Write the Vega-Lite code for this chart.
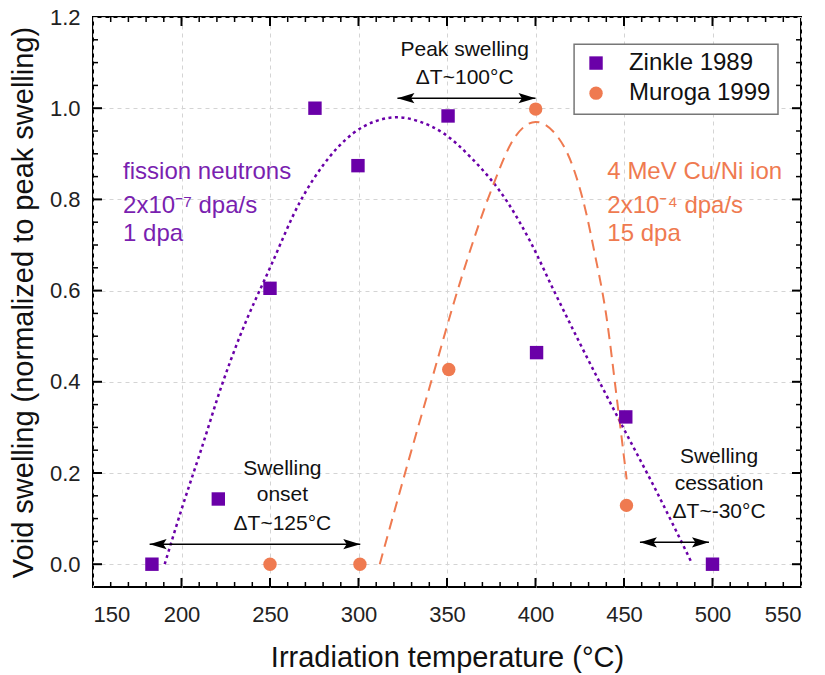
{
  "$schema": "https://vega.github.io/schema/vega-lite/v6.json",
  "width": 708,
  "height": 570,
  "autosize": {"type": "none"},
  "padding": {"left": 93, "top": 17, "right": 24, "bottom": 88},
  "background": "white",
  "config": {
    "font": "Liberation Sans",
    "view": {"stroke": "black", "strokeWidth": 2},
    "axis": {
      "labelFont": "Liberation Sans",
      "titleFont": "Liberation Sans",
      "labelFontSize": 22,
      "labelColor": "#222222",
      "titleFontSize": 29,
      "titleFontWeight": "normal",
      "titleColor": "#111111",
      "domain": false,
      "gridColor": "#d4d4d4",
      "gridDash": [4, 4],
      "gridWidth": 1
    }
  },
  "datasets": {
    "xmajor": [{"t": 200}, {"t": 250}, {"t": 300}, {"t": 350}, {"t": 400}, {"t": 450}, {"t": 500}],
    "xminor": [{"t": 160}, {"t": 170}, {"t": 180}, {"t": 190}, {"t": 210}, {"t": 220}, {"t": 230}, {"t": 240}, {"t": 260}, {"t": 270}, {"t": 280}, {"t": 290}, {"t": 310}, {"t": 320}, {"t": 330}, {"t": 340}, {"t": 360}, {"t": 370}, {"t": 380}, {"t": 390}, {"t": 410}, {"t": 420}, {"t": 430}, {"t": 440}, {"t": 460}, {"t": 470}, {"t": 480}, {"t": 490}, {"t": 510}, {"t": 520}, {"t": 530}, {"t": 540}],
    "ymajor": [{"v": 0}, {"v": 0.2}, {"v": 0.4}, {"v": 0.6}, {"v": 0.8}, {"v": 1.0}],
    "yminor": [{"v": 0.05}, {"v": 0.1}, {"v": 0.15}, {"v": 0.25}, {"v": 0.3}, {"v": 0.35}, {"v": 0.45}, {"v": 0.5}, {"v": 0.55}, {"v": 0.65}, {"v": 0.7}, {"v": 0.75}, {"v": 0.85}, {"v": 0.9}, {"v": 0.95}, {"v": 1.05}, {"v": 1.1}, {"v": 1.15}],
    "legend": [
      {"x": 434.2, "y": 1.099, "lx": 452.8, "s": "Zinkle 1989"},
      {"x": 434.2, "y": 1.033, "lx": 452.8, "s": "Muroga 1999"}
    ]
  },
  "layer": [
    {
      "data": {"name": "xmajor"},
      "mark": {"type": "tick", "orient": "vertical", "size": 18, "thickness": 2, "color": "black", "opacity": 1, "clip": true},
      "encoding": {
        "x": {"field": "t", "type": "quantitative", "scale": {"domain": [150, 550], "nice": false, "zero": false}, "axis": {"orient": "bottom", "values": [150,200,250,300,350,400,450,500,550], "title": "Irradiation temperature (°C)", "ticks": false, "labelPadding": 17, "titlePadding": 18, "grid": true}},
        "y": {"datum": -0.05, "type": "quantitative", "scale": {"domain": [-0.05, 1.2], "nice": false, "zero": false}, "axis": {"orient": "left", "values": [0,0.2,0.4,0.6,0.8,1.0,1.2], "format": ".1f", "title": "Void swelling (normalized to peak swelling)", "ticks": false, "labelPadding": 13, "titlePadding": 11, "grid": true}}
      }
    },
    {
      "data": {"name": "xmajor"},
      "mark": {"type": "tick", "orient": "vertical", "size": 18, "thickness": 2, "color": "black", "opacity": 1, "clip": true},
      "encoding": {
        "x": {"field": "t", "type": "quantitative", "scale": {"domain": [150, 550], "nice": false, "zero": false}, "axis": {"orient": "bottom", "values": [150,200,250,300,350,400,450,500,550], "title": "Irradiation temperature (°C)", "ticks": false, "labelPadding": 17, "titlePadding": 18, "grid": true}},
        "y": {"datum": 1.2, "type": "quantitative", "scale": {"domain": [-0.05, 1.2], "nice": false, "zero": false}, "axis": {"orient": "left", "values": [0,0.2,0.4,0.6,0.8,1.0,1.2], "format": ".1f", "title": "Void swelling (normalized to peak swelling)", "ticks": false, "labelPadding": 13, "titlePadding": 11, "grid": true}}
      }
    },
    {
      "data": {"name": "xminor"},
      "mark": {"type": "tick", "orient": "vertical", "size": 10, "thickness": 1.5, "color": "black", "opacity": 1, "clip": true},
      "encoding": {
        "x": {"field": "t", "type": "quantitative", "scale": {"domain": [150, 550], "nice": false, "zero": false}, "axis": {"orient": "bottom", "values": [150,200,250,300,350,400,450,500,550], "title": "Irradiation temperature (°C)", "ticks": false, "labelPadding": 17, "titlePadding": 18, "grid": true}},
        "y": {"datum": -0.05, "type": "quantitative", "scale": {"domain": [-0.05, 1.2], "nice": false, "zero": false}, "axis": {"orient": "left", "values": [0,0.2,0.4,0.6,0.8,1.0,1.2], "format": ".1f", "title": "Void swelling (normalized to peak swelling)", "ticks": false, "labelPadding": 13, "titlePadding": 11, "grid": true}}
      }
    },
    {
      "data": {"name": "xminor"},
      "mark": {"type": "tick", "orient": "vertical", "size": 10, "thickness": 1.5, "color": "black", "opacity": 1, "clip": true},
      "encoding": {
        "x": {"field": "t", "type": "quantitative", "scale": {"domain": [150, 550], "nice": false, "zero": false}, "axis": {"orient": "bottom", "values": [150,200,250,300,350,400,450,500,550], "title": "Irradiation temperature (°C)", "ticks": false, "labelPadding": 17, "titlePadding": 18, "grid": true}},
        "y": {"datum": 1.2, "type": "quantitative", "scale": {"domain": [-0.05, 1.2], "nice": false, "zero": false}, "axis": {"orient": "left", "values": [0,0.2,0.4,0.6,0.8,1.0,1.2], "format": ".1f", "title": "Void swelling (normalized to peak swelling)", "ticks": false, "labelPadding": 13, "titlePadding": 11, "grid": true}}
      }
    },
    {
      "data": {"name": "ymajor"},
      "mark": {"type": "tick", "orient": "horizontal", "size": 18, "thickness": 2, "color": "black", "opacity": 1, "clip": true},
      "encoding": {
        "y": {"field": "v", "type": "quantitative", "scale": {"domain": [-0.05, 1.2], "nice": false, "zero": false}, "axis": {"orient": "left", "values": [0,0.2,0.4,0.6,0.8,1.0,1.2], "format": ".1f", "title": "Void swelling (normalized to peak swelling)", "ticks": false, "labelPadding": 13, "titlePadding": 11, "grid": true}},
        "x": {"datum": 150, "type": "quantitative", "scale": {"domain": [150, 550], "nice": false, "zero": false}, "axis": {"orient": "bottom", "values": [150,200,250,300,350,400,450,500,550], "title": "Irradiation temperature (°C)", "ticks": false, "labelPadding": 17, "titlePadding": 18, "grid": true}}
      }
    },
    {
      "data": {"name": "ymajor"},
      "mark": {"type": "tick", "orient": "horizontal", "size": 18, "thickness": 2, "color": "black", "opacity": 1, "clip": true},
      "encoding": {
        "y": {"field": "v", "type": "quantitative", "scale": {"domain": [-0.05, 1.2], "nice": false, "zero": false}, "axis": {"orient": "left", "values": [0,0.2,0.4,0.6,0.8,1.0,1.2], "format": ".1f", "title": "Void swelling (normalized to peak swelling)", "ticks": false, "labelPadding": 13, "titlePadding": 11, "grid": true}},
        "x": {"datum": 550, "type": "quantitative", "scale": {"domain": [150, 550], "nice": false, "zero": false}, "axis": {"orient": "bottom", "values": [150,200,250,300,350,400,450,500,550], "title": "Irradiation temperature (°C)", "ticks": false, "labelPadding": 17, "titlePadding": 18, "grid": true}}
      }
    },
    {
      "data": {"name": "yminor"},
      "mark": {"type": "tick", "orient": "horizontal", "size": 10, "thickness": 1.5, "color": "black", "opacity": 1, "clip": true},
      "encoding": {
        "y": {"field": "v", "type": "quantitative", "scale": {"domain": [-0.05, 1.2], "nice": false, "zero": false}, "axis": {"orient": "left", "values": [0,0.2,0.4,0.6,0.8,1.0,1.2], "format": ".1f", "title": "Void swelling (normalized to peak swelling)", "ticks": false, "labelPadding": 13, "titlePadding": 11, "grid": true}},
        "x": {"datum": 150, "type": "quantitative", "scale": {"domain": [150, 550], "nice": false, "zero": false}, "axis": {"orient": "bottom", "values": [150,200,250,300,350,400,450,500,550], "title": "Irradiation temperature (°C)", "ticks": false, "labelPadding": 17, "titlePadding": 18, "grid": true}}
      }
    },
    {
      "data": {"name": "yminor"},
      "mark": {"type": "tick", "orient": "horizontal", "size": 10, "thickness": 1.5, "color": "black", "opacity": 1, "clip": true},
      "encoding": {
        "y": {"field": "v", "type": "quantitative", "scale": {"domain": [-0.05, 1.2], "nice": false, "zero": false}, "axis": {"orient": "left", "values": [0,0.2,0.4,0.6,0.8,1.0,1.2], "format": ".1f", "title": "Void swelling (normalized to peak swelling)", "ticks": false, "labelPadding": 13, "titlePadding": 11, "grid": true}},
        "x": {"datum": 550, "type": "quantitative", "scale": {"domain": [150, 550], "nice": false, "zero": false}, "axis": {"orient": "bottom", "values": [150,200,250,300,350,400,450,500,550], "title": "Irradiation temperature (°C)", "ticks": false, "labelPadding": 17, "titlePadding": 18, "grid": true}}
      }
    },
    {
      "data": {"values": [
        {"t": 190.5, "v": 0.0},
        {"t": 200, "v": 0.12},
        {"t": 211, "v": 0.25},
        {"t": 223, "v": 0.395},
        {"t": 233, "v": 0.5},
        {"t": 250, "v": 0.65},
        {"t": 267, "v": 0.795},
        {"t": 280, "v": 0.875},
        {"t": 297, "v": 0.945},
        {"t": 310, "v": 0.972},
        {"t": 322, "v": 0.98},
        {"t": 335, "v": 0.97},
        {"t": 348, "v": 0.945},
        {"t": 364, "v": 0.89},
        {"t": 384, "v": 0.795},
        {"t": 397, "v": 0.708},
        {"t": 410, "v": 0.603},
        {"t": 425, "v": 0.485},
        {"t": 450, "v": 0.296},
        {"t": 467, "v": 0.17},
        {"t": 488, "v": 0.005}
      ]},
      "mark": {"type": "line", "color": "#6a00a8", "strokeWidth": 2.5, "strokeDash": [3, 3.5], "interpolate": "monotone"},
      "encoding": {
        "x": {"field": "t", "type": "quantitative", "scale": {"domain": [150, 550], "nice": false, "zero": false}, "axis": {"orient": "bottom", "values": [150,200,250,300,350,400,450,500,550], "title": "Irradiation temperature (°C)", "ticks": false, "labelPadding": 17, "titlePadding": 18, "grid": true}},
        "y": {"field": "v", "type": "quantitative", "scale": {"domain": [-0.05, 1.2], "nice": false, "zero": false}, "axis": {"orient": "left", "values": [0,0.2,0.4,0.6,0.8,1.0,1.2], "format": ".1f", "title": "Void swelling (normalized to peak swelling)", "ticks": false, "labelPadding": 13, "titlePadding": 11, "grid": true}}
      }
    },
    {
      "data": {"values": [
        {"t": 312, "v": 0.0},
        {"t": 329, "v": 0.237},
        {"t": 344, "v": 0.44},
        {"t": 354, "v": 0.575},
        {"t": 362, "v": 0.675},
        {"t": 374, "v": 0.81},
        {"t": 389, "v": 0.94},
        {"t": 400, "v": 0.97},
        {"t": 412, "v": 0.94},
        {"t": 421, "v": 0.873},
        {"t": 429, "v": 0.764},
        {"t": 433, "v": 0.69},
        {"t": 440, "v": 0.545},
        {"t": 446, "v": 0.362},
        {"t": 451.5, "v": 0.186}
      ]},
      "mark": {"type": "line", "color": "#ef7a50", "strokeWidth": 2, "strokeDash": [11, 7], "interpolate": "monotone"},
      "encoding": {
        "x": {"field": "t", "type": "quantitative", "scale": {"domain": [150, 550], "nice": false, "zero": false}, "axis": {"orient": "bottom", "values": [150,200,250,300,350,400,450,500,550], "title": "Irradiation temperature (°C)", "ticks": false, "labelPadding": 17, "titlePadding": 18, "grid": true}},
        "y": {"field": "v", "type": "quantitative", "scale": {"domain": [-0.05, 1.2], "nice": false, "zero": false}, "axis": {"orient": "left", "values": [0,0.2,0.4,0.6,0.8,1.0,1.2], "format": ".1f", "title": "Void swelling (normalized to peak swelling)", "ticks": false, "labelPadding": 13, "titlePadding": 11, "grid": true}}
      }
    },
    {
      "data": {"values": [
        {"x1": 322, "x2": 400, "y": 1.022},
        {"x1": 182, "x2": 301, "y": 0.044},
        {"x1": 459, "x2": 498, "y": 0.048}
      ]},
      "layer": [
        {
          "mark": {"type": "rule", "color": "black", "strokeWidth": 1.5},
          "encoding": {
            "x": {"field": "x1", "type": "quantitative", "scale": {"domain": [150, 550], "nice": false, "zero": false}, "axis": {"orient": "bottom", "values": [150,200,250,300,350,400,450,500,550], "title": "Irradiation temperature (°C)", "ticks": false, "labelPadding": 17, "titlePadding": 18, "grid": true}},
            "x2": {"field": "x2"},
            "y": {"field": "y", "type": "quantitative", "scale": {"domain": [-0.05, 1.2], "nice": false, "zero": false}, "axis": {"orient": "left", "values": [0,0.2,0.4,0.6,0.8,1.0,1.2], "format": ".1f", "title": "Void swelling (normalized to peak swelling)", "ticks": false, "labelPadding": 13, "titlePadding": 11, "grid": true}}
          }
        },
        {
          "mark": {"type": "point", "shape": "M1,-0.6L-1,0L1,0.6L0.6,0Z", "filled": true, "color": "black", "opacity": 1, "size": 289, "xOffset": 8.5},
          "encoding": {
            "x": {"field": "x1", "type": "quantitative", "scale": {"domain": [150, 550], "nice": false, "zero": false}, "axis": {"orient": "bottom", "values": [150,200,250,300,350,400,450,500,550], "title": "Irradiation temperature (°C)", "ticks": false, "labelPadding": 17, "titlePadding": 18, "grid": true}},
            "y": {"field": "y", "type": "quantitative", "scale": {"domain": [-0.05, 1.2], "nice": false, "zero": false}, "axis": {"orient": "left", "values": [0,0.2,0.4,0.6,0.8,1.0,1.2], "format": ".1f", "title": "Void swelling (normalized to peak swelling)", "ticks": false, "labelPadding": 13, "titlePadding": 11, "grid": true}}
          }
        },
        {
          "mark": {"type": "point", "shape": "M-1,-0.6L1,0L-1,0.6L-0.6,0Z", "filled": true, "color": "black", "opacity": 1, "size": 289, "xOffset": -8.5},
          "encoding": {
            "x": {"field": "x2", "type": "quantitative", "scale": {"domain": [150, 550], "nice": false, "zero": false}, "axis": {"orient": "bottom", "values": [150,200,250,300,350,400,450,500,550], "title": "Irradiation temperature (°C)", "ticks": false, "labelPadding": 17, "titlePadding": 18, "grid": true}},
            "y": {"field": "y", "type": "quantitative", "scale": {"domain": [-0.05, 1.2], "nice": false, "zero": false}, "axis": {"orient": "left", "values": [0,0.2,0.4,0.6,0.8,1.0,1.2], "format": ".1f", "title": "Void swelling (normalized to peak swelling)", "ticks": false, "labelPadding": 13, "titlePadding": 11, "grid": true}}
          }
        }
      ]
    },
    {
      "data": {"values": [
        {"x": 360, "y": 1.127, "label": "Peak swelling"},
        {"x": 360, "y": 1.066, "label": "ΔT~100°C"},
        {"x": 257, "y": 0.208, "label": "Swelling"},
        {"x": 257, "y": 0.151, "label": "onset"},
        {"x": 257, "y": 0.088, "label": "ΔT~125°C"},
        {"x": 503.7, "y": 0.235, "label": "Swelling"},
        {"x": 503.7, "y": 0.175, "label": "cessation"},
        {"x": 503.7, "y": 0.114, "label": "ΔT~-30°C"}
      ]},
      "mark": {"type": "text", "font": "Liberation Sans", "fontSize": 21, "color": "#111111", "align": "center", "baseline": "middle"},
      "encoding": {
        "x": {"field": "x", "type": "quantitative", "scale": {"domain": [150, 550], "nice": false, "zero": false}, "axis": {"orient": "bottom", "values": [150,200,250,300,350,400,450,500,550], "title": "Irradiation temperature (°C)", "ticks": false, "labelPadding": 17, "titlePadding": 18, "grid": true}},
        "y": {"field": "y", "type": "quantitative", "scale": {"domain": [-0.05, 1.2], "nice": false, "zero": false}, "axis": {"orient": "left", "values": [0,0.2,0.4,0.6,0.8,1.0,1.2], "format": ".1f", "title": "Void swelling (normalized to peak swelling)", "ticks": false, "labelPadding": 13, "titlePadding": 11, "grid": true}},
        "text": {"field": "label"}
      }
    },
    {
      "data": {"values": [
        {"x": 167, "y": 0.86, "label": "fission neutrons"},
        {"x": 167, "y": 0.785, "label": "2x10⁻⁷ dpa/s"},
        {"x": 167, "y": 0.724, "label": "1 dpa"}
      ]},
      "mark": {"type": "text", "font": "Liberation Sans", "fontSize": 24, "color": "#7a1fb0", "align": "left", "baseline": "middle"},
      "encoding": {
        "x": {"field": "x", "type": "quantitative", "scale": {"domain": [150, 550], "nice": false, "zero": false}, "axis": {"orient": "bottom", "values": [150,200,250,300,350,400,450,500,550], "title": "Irradiation temperature (°C)", "ticks": false, "labelPadding": 17, "titlePadding": 18, "grid": true}},
        "y": {"field": "y", "type": "quantitative", "scale": {"domain": [-0.05, 1.2], "nice": false, "zero": false}, "axis": {"orient": "left", "values": [0,0.2,0.4,0.6,0.8,1.0,1.2], "format": ".1f", "title": "Void swelling (normalized to peak swelling)", "ticks": false, "labelPadding": 13, "titlePadding": 11, "grid": true}},
        "text": {"field": "label"}
      }
    },
    {
      "data": {"values": [
        {"x": 440.6, "y": 0.86, "label": "4 MeV Cu/Ni ion"},
        {"x": 440.6, "y": 0.785, "label": "2x10⁻⁴ dpa/s"},
        {"x": 440.6, "y": 0.724, "label": "15 dpa"}
      ]},
      "mark": {"type": "text", "font": "Liberation Sans", "fontSize": 24, "color": "#ef7a50", "align": "left", "baseline": "middle"},
      "encoding": {
        "x": {"field": "x", "type": "quantitative", "scale": {"domain": [150, 550], "nice": false, "zero": false}, "axis": {"orient": "bottom", "values": [150,200,250,300,350,400,450,500,550], "title": "Irradiation temperature (°C)", "ticks": false, "labelPadding": 17, "titlePadding": 18, "grid": true}},
        "y": {"field": "y", "type": "quantitative", "scale": {"domain": [-0.05, 1.2], "nice": false, "zero": false}, "axis": {"orient": "left", "values": [0,0.2,0.4,0.6,0.8,1.0,1.2], "format": ".1f", "title": "Void swelling (normalized to peak swelling)", "ticks": false, "labelPadding": 13, "titlePadding": 11, "grid": true}},
        "text": {"field": "label"}
      }
    },
    {
      "data": {"values": [{"x": 421.8, "x2": 537.0, "y": 1.14, "y2": 0.987}]},
      "mark": {"type": "rect", "fill": "white", "stroke": "#777777", "strokeWidth": 1.5},
      "encoding": {
        "x": {"field": "x", "type": "quantitative", "scale": {"domain": [150, 550], "nice": false, "zero": false}, "axis": {"orient": "bottom", "values": [150,200,250,300,350,400,450,500,550], "title": "Irradiation temperature (°C)", "ticks": false, "labelPadding": 17, "titlePadding": 18, "grid": true}},
        "x2": {"field": "x2"},
        "y": {"field": "y", "type": "quantitative", "scale": {"domain": [-0.05, 1.2], "nice": false, "zero": false}, "axis": {"orient": "left", "values": [0,0.2,0.4,0.6,0.8,1.0,1.2], "format": ".1f", "title": "Void swelling (normalized to peak swelling)", "ticks": false, "labelPadding": 13, "titlePadding": 11, "grid": true}},
        "y2": {"field": "y2"}
      }
    },
    {
      "data": {"name": "legend"},
      "mark": {"type": "text", "font": "Liberation Sans", "fontSize": 24, "color": "#111111", "align": "left", "baseline": "middle"},
      "encoding": {
        "x": {"field": "lx", "type": "quantitative", "scale": {"domain": [150, 550], "nice": false, "zero": false}, "axis": {"orient": "bottom", "values": [150,200,250,300,350,400,450,500,550], "title": "Irradiation temperature (°C)", "ticks": false, "labelPadding": 17, "titlePadding": 18, "grid": true}},
        "y": {"field": "y", "type": "quantitative", "scale": {"domain": [-0.05, 1.2], "nice": false, "zero": false}, "axis": {"orient": "left", "values": [0,0.2,0.4,0.6,0.8,1.0,1.2], "format": ".1f", "title": "Void swelling (normalized to peak swelling)", "ticks": false, "labelPadding": 13, "titlePadding": 11, "grid": true}},
        "text": {"field": "s"}
      }
    },
    {
      "data": {"values": [
        {"t": 183.3, "v": 0.0, "s": "Zinkle 1989"},
        {"t": 220.8, "v": 0.143, "s": "Zinkle 1989"},
        {"t": 250, "v": 0.605, "s": "Zinkle 1989"},
        {"t": 275.4, "v": 1.0, "s": "Zinkle 1989"},
        {"t": 299.7, "v": 0.874, "s": "Zinkle 1989"},
        {"t": 350.6, "v": 0.983, "s": "Zinkle 1989"},
        {"t": 400.6, "v": 0.464, "s": "Zinkle 1989"},
        {"t": 451, "v": 0.323, "s": "Zinkle 1989"},
        {"t": 500, "v": 0.0, "s": "Zinkle 1989"},
        {"t": 250, "v": 0.0, "s": "Muroga 1999"},
        {"t": 300.8, "v": 0.0, "s": "Muroga 1999"},
        {"t": 351, "v": 0.427, "s": "Muroga 1999"},
        {"t": 400.1, "v": 0.998, "s": "Muroga 1999"},
        {"t": 451.4, "v": 0.129, "s": "Muroga 1999"}
      ]},
      "mark": {"type": "point", "filled": true, "opacity": 1, "size": 180},
      "encoding": {
        "x": {"field": "t", "type": "quantitative", "scale": {"domain": [150, 550], "nice": false, "zero": false}, "axis": {"orient": "bottom", "values": [150,200,250,300,350,400,450,500,550], "title": "Irradiation temperature (°C)", "ticks": false, "labelPadding": 17, "titlePadding": 18, "grid": true}},
        "y": {"field": "v", "type": "quantitative", "scale": {"domain": [-0.05, 1.2], "nice": false, "zero": false}, "axis": {"orient": "left", "values": [0,0.2,0.4,0.6,0.8,1.0,1.2], "format": ".1f", "title": "Void swelling (normalized to peak swelling)", "ticks": false, "labelPadding": 13, "titlePadding": 11, "grid": true}},
        "color": {"field": "s", "type": "nominal", "scale": {"domain": ["Zinkle 1989", "Muroga 1999"], "range": ["#6a00a8", "#ef7a50"]}, "legend": null},
        "shape": {"field": "s", "type": "nominal", "scale": {"domain": ["Zinkle 1989", "Muroga 1999"], "range": ["square", "circle"]}, "legend": null}
      }
    },
    {
      "data": {"name": "legend"},
      "mark": {"type": "point", "filled": true, "opacity": 1, "size": 180},
      "encoding": {
        "x": {"field": "x", "type": "quantitative", "scale": {"domain": [150, 550], "nice": false, "zero": false}, "axis": {"orient": "bottom", "values": [150,200,250,300,350,400,450,500,550], "title": "Irradiation temperature (°C)", "ticks": false, "labelPadding": 17, "titlePadding": 18, "grid": true}},
        "y": {"field": "y", "type": "quantitative", "scale": {"domain": [-0.05, 1.2], "nice": false, "zero": false}, "axis": {"orient": "left", "values": [0,0.2,0.4,0.6,0.8,1.0,1.2], "format": ".1f", "title": "Void swelling (normalized to peak swelling)", "ticks": false, "labelPadding": 13, "titlePadding": 11, "grid": true}},
        "color": {"field": "s", "type": "nominal", "scale": {"domain": ["Zinkle 1989", "Muroga 1999"], "range": ["#6a00a8", "#ef7a50"]}, "legend": null},
        "shape": {"field": "s", "type": "nominal", "scale": {"domain": ["Zinkle 1989", "Muroga 1999"], "range": ["square", "circle"]}, "legend": null}
      }
    }
  ]
}
